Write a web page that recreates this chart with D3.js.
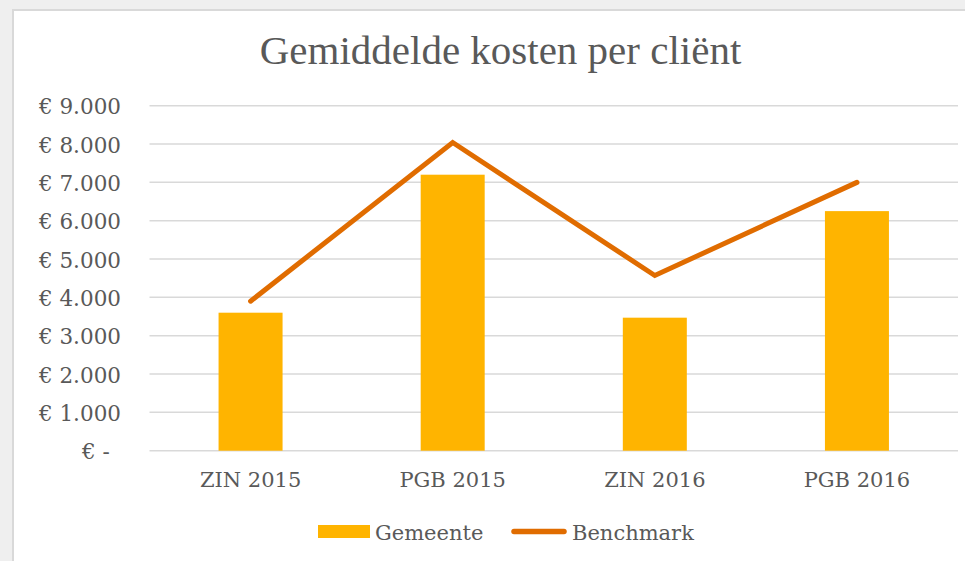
<!DOCTYPE html>
<html>
<head>
<meta charset="utf-8">
<script src="https://cdn.jsdelivr.net/npm/d3@7"></script>
<style>
  html, body { margin: 0; padding: 0; background: #efefef; }
  svg { display: block; }
  text { font-family: "DejaVu Serif", serif; fill: #595959; }
</style>
</head>
<body>
<div id="chart"></div>
<script>
var categories = ['ZIN 2015', 'PGB 2015', 'ZIN 2016', 'PGB 2016'];
var gemeente = [3600, 7200, 3470, 6250];
var benchmark = [3900, 8040, 4570, 7000];
var tickValues = [0, 1000, 2000, 3000, 4000, 5000, 6000, 7000, 8000, 9000];
var tickLabels = ['€ -\u00a0\u2009', '€ 1.000', '€ 2.000', '€ 3.000', '€ 4.000', '€ 5.000', '€ 6.000', '€ 7.000', '€ 8.000', '€ 9.000'];

var width = 965, height = 561;
var plot = { left: 149.5, right: 958, top: 105.7, bottom: 450.7 };

var svg = d3.select('#chart')
            .append('svg')
            .attr('width', width)
            .attr('height', height);

// chart area with light border
svg.append('rect')
   .attr('x', 13).attr('y', 10)
   .attr('width', width).attr('height', height)
   .attr('fill', '#ffffff')
   .attr('stroke', '#d9d9d9')
   .attr('stroke-width', 2);

svg.append('text')
   .attr('x', 500.5).attr('y', 64)
   .attr('text-anchor', 'middle')
   .style('font-family', '"Liberation Serif", serif')
   .style('font-size', '41px')
   .text('Gemiddelde kosten per cliënt');

var x = d3.scaleBand()
          .domain(categories)
          .range([plot.left, plot.right]);

var y = d3.scaleLinear()
          .domain([0, 9000])
          .range([plot.bottom, plot.top]);

// gridlines
svg.append('g')
   .selectAll('line')
   .data(tickValues)
   .enter()
   .append('line')
   .attr('x1', plot.left).attr('x2', plot.right)
   .attr('y1', function (d) { return y(d); })
   .attr('y2', function (d) { return y(d); })
   .attr('stroke', '#d9d9d9')
   .attr('stroke-width', 1.5);

// y axis labels
var yAxis = d3.axisLeft(y)
              .tickValues(tickValues)
              .tickSize(0)
              .tickPadding(0)
              .tickFormat(function (d, i) { return tickLabels[i]; });

var gy = svg.append('g')
            .attr('transform', 'translate(121,0)')
            .call(yAxis);
gy.select('.domain').remove();
gy.selectAll('text')
  .attr('fill', '#595959')
  .style('font-size', '21.5px')
  .style('font-family', '"DejaVu Serif", serif')
  .attr('dy', '0.38em');

// x axis labels
var xAxis = d3.axisBottom(x).tickSize(0).tickPadding(0);
var gx = svg.append('g')
            .attr('transform', 'translate(0,' + plot.bottom + ')')
            .call(xAxis);
gx.select('.domain').remove();
gx.selectAll('text')
  .attr('fill', '#595959')
  .attr('y', 36.5)
  .attr('dy', 0)
  .style('font-size', '21px')
  .style('font-family', '"DejaVu Serif", serif');

// bars
var barW = 64;
svg.append('g')
   .selectAll('rect')
   .data(gemeente)
   .enter()
   .append('rect')
   .attr('x', function (d, i) { return x(categories[i]) + x.bandwidth() / 2 - barW / 2; })
   .attr('y', function (d) { return y(d); })
   .attr('width', barW)
   .attr('height', function (d) { return y(0) - y(d); })
   .attr('fill', '#ffb400');

// benchmark line
var line = d3.line()
             .x(function (d, i) { return x(categories[i]) + x.bandwidth() / 2; })
             .y(function (d) { return y(d); });

svg.append('path')
   .datum(benchmark)
   .attr('d', line)
   .attr('fill', 'none')
   .attr('stroke', '#e06c00')
   .attr('stroke-width', 5)
   .attr('stroke-linecap', 'round')
   .attr('stroke-linejoin', 'miter');

// legend
var legend = svg.append('g').attr('transform', 'translate(0,531.5)');
legend.append('rect')
      .attr('x', 318).attr('y', -6.5)
      .attr('width', 52).attr('height', 13)
      .attr('fill', '#ffb400');
legend.append('text')
      .attr('x', 375).attr('y', 8)
      .style('font-size', '21px')
      .text('Gemeente');
legend.append('line')
      .attr('x1', 514).attr('x2', 564)
      .attr('y1', 0).attr('y2', 0)
      .attr('stroke', '#e06c00')
      .attr('stroke-width', 5.5)
      .attr('stroke-linecap', 'round');
legend.append('text')
      .attr('x', 572).attr('y', 8)
      .style('font-size', '21px')
      .text('Benchmark');
</script>
</body>
</html>
